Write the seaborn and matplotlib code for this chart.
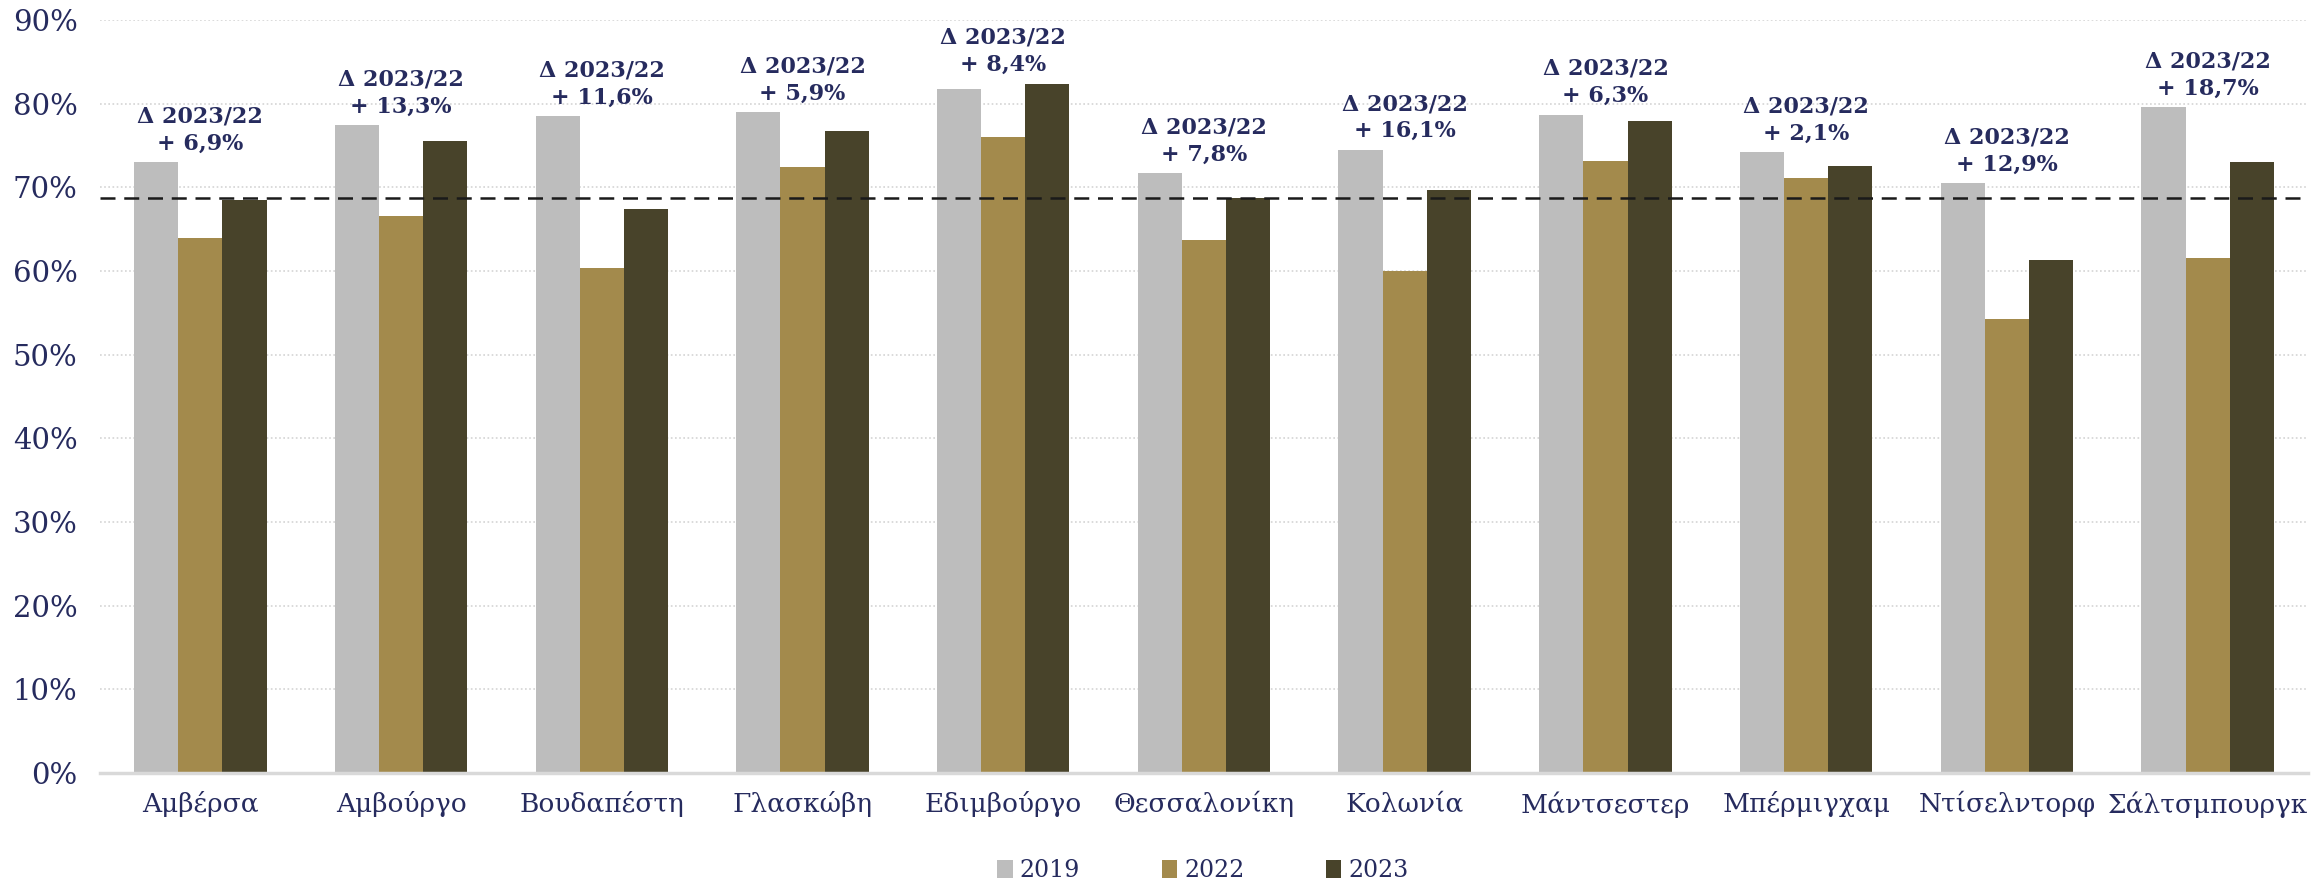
import matplotlib.pyplot as plt
import pandas as pd
import seaborn as sns
from matplotlib.patches import Patch
from matplotlib.ticker import FuncFormatter, MultipleLocator

# data (occupancy, %)
cities = ['Αμβέρσα', 'Αμβούργο', 'Βουδαπέστη', 'Γλασκώβη', 'Εδιμβούργο', 'Θεσσαλονίκη',
          'Κολωνία', 'Μάντσεστερ', 'Μπέρμιγχαμ', 'Ντίσελντορφ', 'Σάλτσμπουργκ']
years = ['2019', '2022', '2023']
occ_2019 = [73.0, 77.4, 78.5, 79.0, 81.7, 71.7, 74.5, 78.7, 74.2, 70.5, 79.6]
occ_2022 = [64.0, 66.6, 60.4, 72.4, 76.0, 63.7, 60.0, 73.2, 71.1, 54.3, 61.5]
occ_2023 = [68.5, 75.5, 67.4, 76.7, 82.4, 68.7, 69.7, 77.9, 72.6, 61.3, 73.0]
delta_labels = ['+ 6,9%', '+ 13,3%', '+ 11,6%', '+ 5,9%', '+ 8,4%', '+ 7,8%',
                '+ 16,1%', '+ 6,3%', '+ 2,1%', '+ 12,9%', '+ 18,7%']
reference_level = 68.7

colors = ['#BDBDBD', '#A38A4C', '#48432A']
text_color = '#262B5E'

df = pd.DataFrame({
    'city': cities * 3,
    'year': [y for y in years for _ in cities],
    'value': occ_2019 + occ_2022 + occ_2023,
})

sns.set_theme(style='white')
plt.rcParams['font.family'] = ['DejaVu Serif']

fig = plt.figure(figsize=(23.18, 8.9), dpi=100)
ax = fig.add_axes([0.0431, 0.1315, 0.9526, 0.846])

sns.barplot(data=df, x='city', y='value', hue='year', palette=colors, saturation=1,
            width=0.66, gap=0, ax=ax, legend=False, zorder=2,
            edgecolor='none', linewidth=0)

# reference line
ax.axhline(reference_level, color='#1a1a1a', linestyle=(0, (6, 3.5)), linewidth=1.8, zorder=3)

# delta annotations above each group
for i, label in enumerate(delta_labels):
    top = max(occ_2019[i], occ_2022[i], occ_2023[i])
    ax.text(i, top + 0.9, 'Δ 2023/22\n' + label, ha='center', va='bottom',
            fontsize=16, fontweight='bold', color=text_color, linespacing=1.3,
            zorder=4, clip_on=False)

ax.set_ylim(0, 90)
ax.set_xlim(-0.5, len(cities) - 0.5)
ax.yaxis.set_major_locator(MultipleLocator(10))
ax.yaxis.set_major_formatter(FuncFormatter(lambda v, _: f'{v:.0f}%'))
ax.grid(axis='y', color='#d4d4d4', linestyle=(0, (1, 1.5)), linewidth=1.2, zorder=0)
ax.set_axisbelow(True)

for side in ['left', 'right', 'top']:
    ax.spines[side].set_visible(False)
ax.spines['bottom'].set_color('#d9d9d9')
ax.spines['bottom'].set_linewidth(2.5)

ax.tick_params(axis='y', length=0, pad=16, labelsize=21, labelcolor=text_color)
ax.tick_params(axis='x', length=0, pad=13, labelsize=19, labelcolor=text_color)
ax.set_xlabel('')
ax.set_ylabel('')

handles = [Patch(facecolor=c, edgecolor='none', label=y) for c, y in zip(colors, years)]
fig.legend(handles=handles, loc='center', bbox_to_anchor=(0.519, 0.022), ncol=3,
           frameon=False, fontsize=17, labelcolor=text_color, handlelength=0.65,
           handleheight=0.8, handletextpad=0.3, columnspacing=3.45,
           borderpad=0, borderaxespad=0)

fig.savefig('out.png', dpi=100)
